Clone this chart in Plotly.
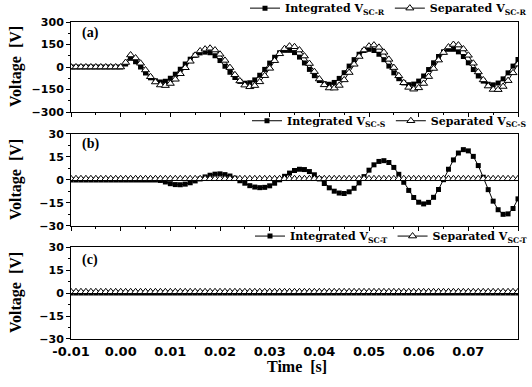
import plotly.graph_objects as go

# time grid: samples every 1 ms from -0.01 s to 0.08 s
time_s = [round(-0.01 + 0.001 * i, 3) for i in range(91)]

integrated_r = [
    0, 0, 0, 0, 0, 0, 0, 0, 0, 0,
    0, 20, 58, 35, 0, -40, -72, -92, -100, -95,
    -75, -48, -15, 20, 52, 78, 94, 99, 95, 75,
    43, 5, -35, -70, -96, -108, -105, -86, -55, -16,
    26, 65, 95, 111, 111, 96, 66, 27, -16, -58,
    -90, -111, -115, -103, -76, -38, 6, 49, 85, 110,
    118, 110, 85, 49, 6, -39, -78, -106, -118, -114,
    -94, -60, -17, 28, 70, 101, 118, 118, 101, 70,
    28, -17, -60, -94, -115, -119, -107, -79, -39, 6,
    50,
]
separated_r = [
    0, 0, 0, 0, 0, 0, 0, 0, 0, 0,
    0, 30, 80, 60, 25, -20, -65, -100, -120, -124,
    -110, -82, -45, -5, 38, 78, 107, 119, 125, 113,
    85, 44, -4, -52, -93, -121, -132, -124, -99, -58,
    -9, 42, 88, 122, 139, 135, 113, 73, 23, -31,
    -80, -119, -140, -141, -123, -86, -37, 18, 70, 113,
    139, 146, 131, 98, 51, -4, -59, -105, -136, -148,
    -139, -110, -64, -10, 46, 96, 133, 150, 146, 120,
    78, 25, -33, -86, -127, -150, -151, -130, -91, -39,
    19,
]
integrated_s = [
    0, 0, 0, 0, 0, 0, 0, 0, 0, 0,
    0, 0, 0, 0, 0, 0, 0, 0, -0.3, -1.3,
    -2.4, -3.0, -3.1, -2.7, -1.8, -0.6, 0.7, 2.0, 3.1, 3.8,
    4.0, 3.5, 2.6, 1.2, -0.5, -2.1, -3.7, -4.6, -5.0, -4.8,
    -3.8, -2.1, 0.1, 2.4, 4.5, 6.2, 7.0, 6.8, 5.5, 3.4,
    0.7, -2.3, -5.1, -7.3, -8.5, -8.8, -7.7, -5.4, -1.9, 2.2,
    6.4, 9.9, 12.1, 12.6, 11.4, 8.2, 3.7, -1.5, -6.8, -11.4,
    -14.5, -15.6, -14.6, -11.3, -6.2, 0.2, 7.0, 13.1, 17.6, 19.8,
    19.0, 15.4, 9.4, 1.8, -6.3, -13.8, -19.4, -22.4, -22.1, -18.6,
    -12.3,
]
separated_s = [
    0.8, 0.8, 0.8, 0.8, 0.8, 0.8, 0.8, 0.8, 0.8, 0.8,
    0.8, 0.8, 0.8, 0.8, 0.8, 0.8, 0.8, 0.8, 0.8, 0.8,
    0.8, 0.8, 0.8, 0.8, 0.8, 0.8, 0.8, 0.8, 0.8, 0.8,
    0.8, 0.8, 0.8, 0.8, 0.8, 0.8, 0.8, 0.8, 0.8, 0.8,
    0.8, 0.8, 0.8, 0.8, 0.8, 0.8, 0.8, 0.8, 0.8, 0.8,
    0.8, 0.8, 0.8, 0.8, 0.8, 0.8, 0.8, 0.8, 0.8, 0.8,
    0.8, 0.8, 0.8, 0.8, 0.8, 0.8, 0.8, 0.8, 0.8, 0.8,
    0.8, 0.8, 0.8, 0.8, 0.8, 0.8, 0.8, 0.8, 0.8, 0.8,
    0.8, 0.8, 0.8, 0.8, 0.8, 0.8, 0.8, 0.8, 0.8, 0.8,
    0.8,
]
integrated_t = [
    0, 0, 0, 0, 0, 0, 0, 0, 0, 0,
    0, 0, 0, 0, 0, 0, 0, 0, 0, 0,
    0, 0, 0, 0, 0, 0, 0, 0, 0, 0,
    0, 0, 0, 0, 0, 0, 0, 0, 0, 0,
    0, 0, 0, 0, 0, 0, 0, 0, 0, 0,
    0, 0, 0, 0, 0, 0, 0, 0, 0, 0,
    0, 0, 0, 0, 0, 0, 0, 0, 0, 0,
    0, 0, 0, 0, 0, 0, 0, 0, 0, 0,
    0, 0, 0, 0, 0, 0, 0, 0, 0, 0,
    0,
]
separated_t = [
    0.8, 0.8, 0.8, 0.8, 0.8, 0.8, 0.8, 0.8, 0.8, 0.8,
    0.8, 0.8, 0.8, 0.8, 0.8, 0.8, 0.8, 0.8, 0.8, 0.8,
    0.8, 0.8, 0.8, 0.8, 0.8, 0.8, 0.8, 0.8, 0.8, 0.8,
    0.8, 0.8, 0.8, 0.8, 0.8, 0.8, 0.8, 0.8, 0.8, 0.8,
    0.8, 0.8, 0.8, 0.8, 0.8, 0.8, 0.8, 0.8, 0.8, 0.8,
    0.8, 0.8, 0.8, 0.8, 0.8, 0.8, 0.8, 0.8, 0.8, 0.8,
    0.8, 0.8, 0.8, 0.8, 0.8, 0.8, 0.8, 0.8, 0.8, 0.8,
    0.8, 0.8, 0.8, 0.8, 0.8, 0.8, 0.8, 0.8, 0.8, 0.8,
    0.8, 0.8, 0.8, 0.8, 0.8, 0.8, 0.8, 0.8, 0.8, 0.8,
    0.8,
]

x_ticks = [-0.01, 0.0, 0.01, 0.02, 0.03, 0.04, 0.05, 0.06, 0.07, 0.08]
x_tick_labels = ["-0.01", "0.00", "0.01", "0.02", "0.03", "0.04", "0.05", "0.06", "0.07", "0.08"]
panels = [
    ("x", "y", "legend", "SC-R", integrated_r, separated_r),
    ("x2", "y2", "legend2", "SC-S", integrated_s, separated_s),
    ("x3", "y3", "legend3", "SC-T", integrated_t, separated_t),
]

fig = go.Figure()
for xa, ya, lg, sub, integ, sep in panels:
    fig.add_trace(go.Scatter(
        x=time_s, y=integ, xaxis=xa, yaxis=ya, legend=lg, mode="lines+markers",
        name=f"Integrated V<sub>{sub}</sub>",
        line=dict(color="black", width=1),
        marker=dict(symbol="square", size=5, color="black"),
    ))
    fig.add_trace(go.Scatter(
        x=time_s, y=sep, xaxis=xa, yaxis=ya, legend=lg, mode="lines+markers",
        name=f"Separated V<sub>{sub}</sub>",
        line=dict(color="black", width=1),
        marker=dict(symbol="triangle-up", size=7, color="white",
                    line=dict(color="black", width=1)),
    ))

tickfont_x = dict(family="DejaVu Sans", size=13, color="black", weight="bold")
tickfont_y = dict(family="DejaVu Sans", size=11, color="black", weight="bold")

def xaxis_cfg(anchor, labels, ticks=True):
    return dict(
        anchor=anchor, domain=[0, 1], range=[-0.01, 0.08],
        tickvals=x_ticks, ticktext=x_tick_labels, showticklabels=labels,
        ticks="outside" if ticks else "", ticklen=4, tickwidth=1, tickcolor="black",
        minor=dict(dtick=0.005, tick0=-0.01, ticks="outside" if ticks else "",
                   ticklen=2, tickcolor="black"),
        showline=True, linecolor="black", linewidth=1, mirror=True,
        showgrid=False, zeroline=False, tickfont=tickfont_x,
    )

def yaxis_cfg(anchor, domain, rng, dtick):
    return dict(
        anchor=anchor, domain=domain, range=rng, dtick=dtick, tick0=0,
        ticks="outside", ticklen=4, tickwidth=1, tickcolor="black",
        minor=dict(dtick=dtick / 2, ticks="outside", ticklen=2, tickcolor="black"),
        showline=True, linecolor="black", linewidth=1, mirror=True,
        showgrid=False, zeroline=False, tickfont=tickfont_y,
    )

# bottom axis: labels from xaxis3 (no tick marks), tick marks from overlaid xaxis4
xaxis4 = xaxis_cfg("y3", False)
xaxis4.update(overlaying="x3", showline=False)

legend_font = dict(family="DejaVu Serif", size=11, color="black", weight="bold")

def legend_cfg(y):
    return dict(orientation="h", xref="container", yref="container",
                x=1.0, xanchor="right", y=y, yanchor="middle",
                font=legend_font, bgcolor="rgba(0,0,0,0)", itemwidth=30,
                tracegroupgap=0, borderwidth=0)

label_font = dict(family="Liberation Serif", size=14, color="black", weight="bold")
title_font = dict(family="Liberation Serif", size=16, color="black", weight="bold")

annotations = []
for txt, y in [("(a)", 0.9653), ("(b)", 0.6151), ("(c)", 0.2492)]:
    annotations.append(dict(text=txt, x=0.02, y=y, xref="paper", yref="paper",
                            xanchor="left", yanchor="middle", showarrow=False, font=label_font))
for y in [0.858, 0.5016, 0.1451]:
    annotations.append(dict(text="Voltage  [V]", x=-0.123, y=y, xref="paper", yref="paper",
                            xanchor="center", yanchor="middle", textangle=-90,
                            showarrow=False, font=title_font))
annotations.append(dict(text="Time  [s]", x=0.5056, y=-0.0852, xref="paper", yref="paper",
                        xanchor="center", yanchor="middle", showarrow=False,
                        font=dict(family="Liberation Serif", size=16, color="black", weight="bold")))

fig.update_layout(
    width=532, height=387,
    margin=dict(l=71, r=14, t=22, b=48, autoexpand=False),
    paper_bgcolor="white", plot_bgcolor="white",
    xaxis=xaxis_cfg("y", False),
    xaxis2=xaxis_cfg("y2", False),
    xaxis3=xaxis_cfg("y3", True, ticks=False),
    xaxis4=xaxis4,
    yaxis=yaxis_cfg("x", [0.7161, 1.0], [-300, 300], 150),
    yaxis2=yaxis_cfg("x2", [0.3565, 0.6467], [-30, 30], 15),
    yaxis3=yaxis_cfg("x3", [0.0, 0.2902], [-30, 30], 15),
    legend=legend_cfg(0.979),
    legend2=legend_cfg(0.688),
    legend3=legend_cfg(0.390),
    annotations=annotations,
    showlegend=True,
)

fig.write_html("out.html")
